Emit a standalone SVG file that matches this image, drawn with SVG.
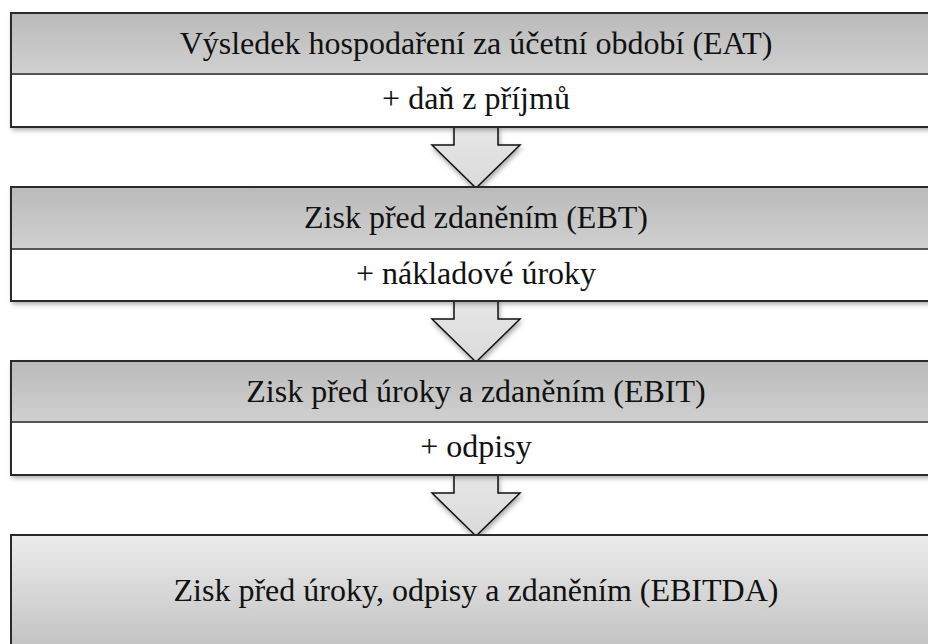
<svg xmlns="http://www.w3.org/2000/svg" width="928" height="644" viewBox="0 0 928 644">
<defs>
<linearGradient id="hdr" x1="0" y1="0" x2="0" y2="1">
<stop offset="0" stop-color="#bababa"/>
<stop offset="1" stop-color="#d0d0d0"/>
</linearGradient>
<linearGradient id="bot" x1="0" y1="0" x2="0" y2="1">
<stop offset="0" stop-color="#ececec"/>
<stop offset="1" stop-color="#c0c0c0"/>
</linearGradient>
<linearGradient id="arr" x1="0" y1="0" x2="0" y2="1">
<stop offset="0" stop-color="#e6e6e6"/>
<stop offset="1" stop-color="#dadada"/>
</linearGradient>
<filter id="sh" x="-5%" y="-20%" width="110%" height="150%">
<feDropShadow dx="1" dy="3" stdDeviation="2.5" flood-color="#000" flood-opacity="0.35"/>
</filter>
</defs>
<style>
.t{font-family:'Liberation Serif','Times New Roman',serif;font-size:32px;fill:#111;text-anchor:middle}
.frame{fill:none;stroke:#2a2a2a;stroke-width:2}
.div{stroke:#555;stroke-width:2}
.arrow{fill:url(#arr);stroke:#111;stroke-width:1.5;stroke-linejoin:miter}
</style>
<rect width="928" height="644" fill="#ffffff"/>

<g id="connectors">
<polygon class="arrow" filter="url(#sh)" points="454,127 498,127 498,145 520,145 476,188 432,145 454,145"/>
<polygon class="arrow" filter="url(#sh)" points="454,301 498,301 498,319 520,319 476,362 432,319 454,319"/>
<polygon class="arrow" filter="url(#sh)" points="454,475 498,475 498,493 520,493 476,536 432,493 454,493"/>
</g>

<g id="node-eat">
<rect x="11" y="13" width="930" height="114" fill="#fff" filter="url(#sh)"/>
<rect x="11" y="13" width="930" height="61" fill="url(#hdr)"/>
<line class="div" x1="11" y1="74" x2="941" y2="74"/>
<rect class="frame" x="11" y="13" width="930" height="114"/>
<text class="t" x="476" y="54">Výsledek hospodaření za účetní období (EAT)</text>
<text class="t" x="476" y="109">+ daň z příjmů</text>
</g>

<g id="node-ebt">
<rect x="11" y="187" width="930" height="114" fill="#fff" filter="url(#sh)"/>
<rect x="11" y="187" width="930" height="62" fill="url(#hdr)"/>
<line class="div" x1="11" y1="249" x2="941" y2="249"/>
<rect class="frame" x="11" y="187" width="930" height="114"/>
<text class="t" x="476" y="228">Zisk před zdaněním (EBT)</text>
<text class="t" x="476" y="284">+ nákladové úroky</text>
</g>

<g id="node-ebit">
<rect x="11" y="361" width="930" height="114" fill="#fff" filter="url(#sh)"/>
<rect x="11" y="361" width="930" height="61" fill="url(#hdr)"/>
<line class="div" x1="11" y1="422" x2="941" y2="422"/>
<rect class="frame" x="11" y="361" width="930" height="114"/>
<text class="t" x="476" y="402">Zisk před úroky a zdaněním (EBIT)</text>
<text class="t" x="476" y="457">+ odpisy</text>
</g>

<g id="node-ebitda">
<rect x="11" y="535" width="930" height="120" fill="url(#bot)" stroke="#2a2a2a" stroke-width="2"/>
<text class="t" x="476" y="601">Zisk před úroky, odpisy a zdaněním (EBITDA)</text>
</g>
</svg>
